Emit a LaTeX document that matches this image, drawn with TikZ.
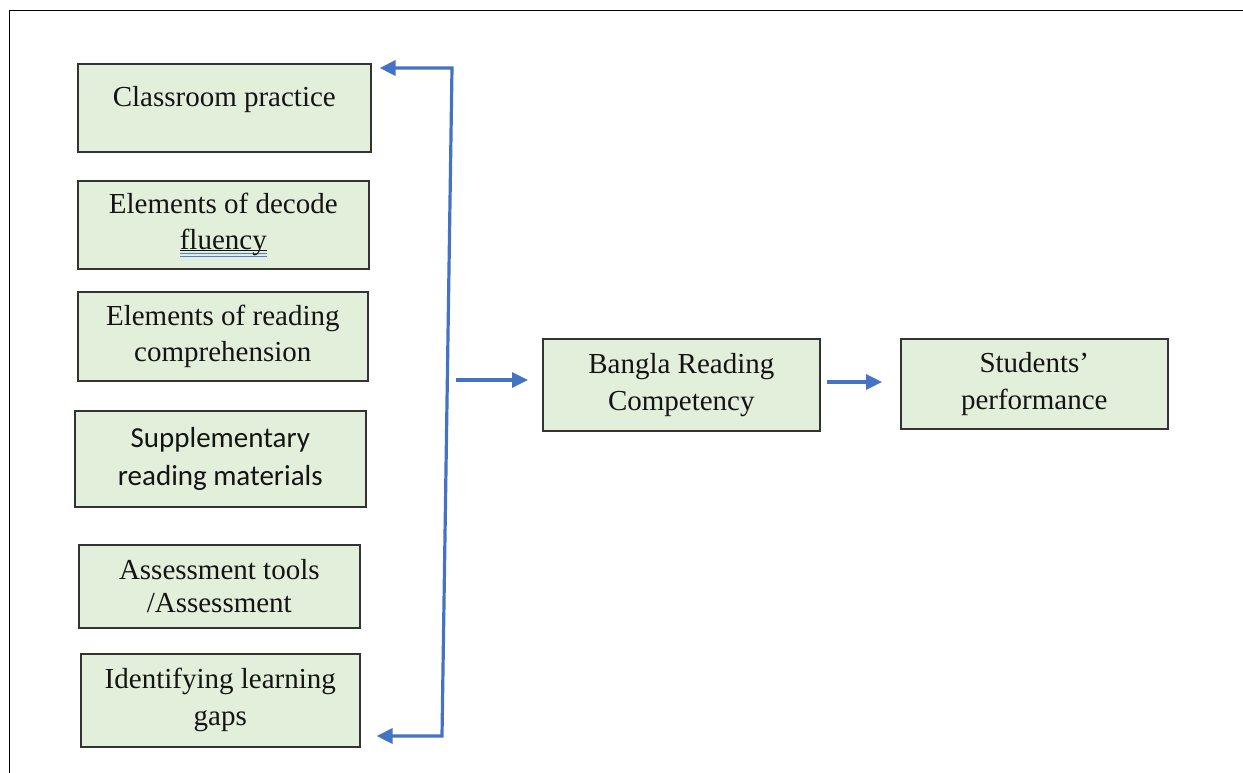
\documentclass[tikz,border=0pt]{standalone}
\usepackage{fontspec}
\setmainfont{Liberation Serif}
\newfontfamily\calib{Carlito}
\usetikzlibrary{arrows.meta,calc}
\definecolor{boxfill}{HTML}{E2EFDA}
\definecolor{boxline}{HTML}{333333}
\definecolor{arrblue}{HTML}{4472C4}
\definecolor{ulblue}{HTML}{4A7FE0}
\definecolor{txt}{HTML}{141414}
\newlength\myulw
\newcommand\mydblul[1]{\settowidth\myulw{#1}\rlap{\color{txt}\rule[-2.2pt]{\myulw}{0.9pt}}\rlap{\color{ulblue}\rule[-4.8pt]{\myulw}{1.1pt}}\rlap{\color{ulblue}\rule[-7.8pt]{\myulw}{1.1pt}}#1}
\tikzset{
  box/.style={draw=boxline, line width=1.6pt, fill=boxfill, anchor=north west,
    align=center, inner sep=0pt, text=txt, font=\fontsize{29}{36}\selectfont},
  arr/.style={draw=arrblue, line width=3.2pt, -{Triangle[length=16pt,width=15pt]}},
  frame/.style={draw=black, line width=1.5pt}
}
\begin{document}
\begin{tikzpicture}[x=1pt,y=-1pt]
\useasboundingbox (0,0) rectangle (1243,772);
\draw[frame] (9.5,1000) -- (9.5,10.5) -- (1400,10.5);

\node[box, minimum width=293pt, minimum height=88pt] (b1) at (77,63) {\raisebox{8pt}[\height][\depth]{Classroom practice}};
\node[box, minimum width=291pt, minimum height=88pt] (b2) at (77,180) {Elements of decode\\\mydblul{fluency}};
\node[box, minimum width=290pt, minimum height=89pt] (b3) at (77,291) {Elements of reading\\comprehension};
\node[box, minimum width=291pt, minimum height=96pt, font=\calib\fontsize{29}{37.5}\selectfont] (b4) at (74,410) {Supplementary\\reading materials};
\node[box, minimum width=281pt, minimum height=83pt, font=\fontsize{29}{33.5}\selectfont] (b5) at (78,544) {Assessment tools\\/Assessment};
\node[box, minimum width=279pt, minimum height=93pt, font=\fontsize{29}{37}\selectfont] (b6) at (80,653) {Identifying learning\\gaps};
\node[box, minimum width=277pt, minimum height=92pt, font=\fontsize{29}{37}\selectfont] (bc) at (542,338) {Bangla Reading\\Competency};
\node[box, minimum width=267pt, minimum height=90pt, font=\fontsize{29}{37}\selectfont] (sp) at (900,338) {Students’\\performance};

\coordinate (t1) at (452,68);
\coordinate (t2) at (442,736);
\coordinate (m1) at (456,380);
\coordinate (m2) at (827,382);

\draw[arr, {Triangle[length=16pt,width=15pt]}-{Triangle[length=16pt,width=15pt]}] ($(t1 -| b1.east)+(8,0)$) -- (t1) -- (t2) -- ($(t2 -| b6.east)+(16,0)$);
\draw[arr, shorten >=14pt] (m1) -- (m1 -| bc.west);
\draw[arr, shorten >=18pt] (m2) -- (m2 -| sp.west);
\end{tikzpicture}
\end{document}
